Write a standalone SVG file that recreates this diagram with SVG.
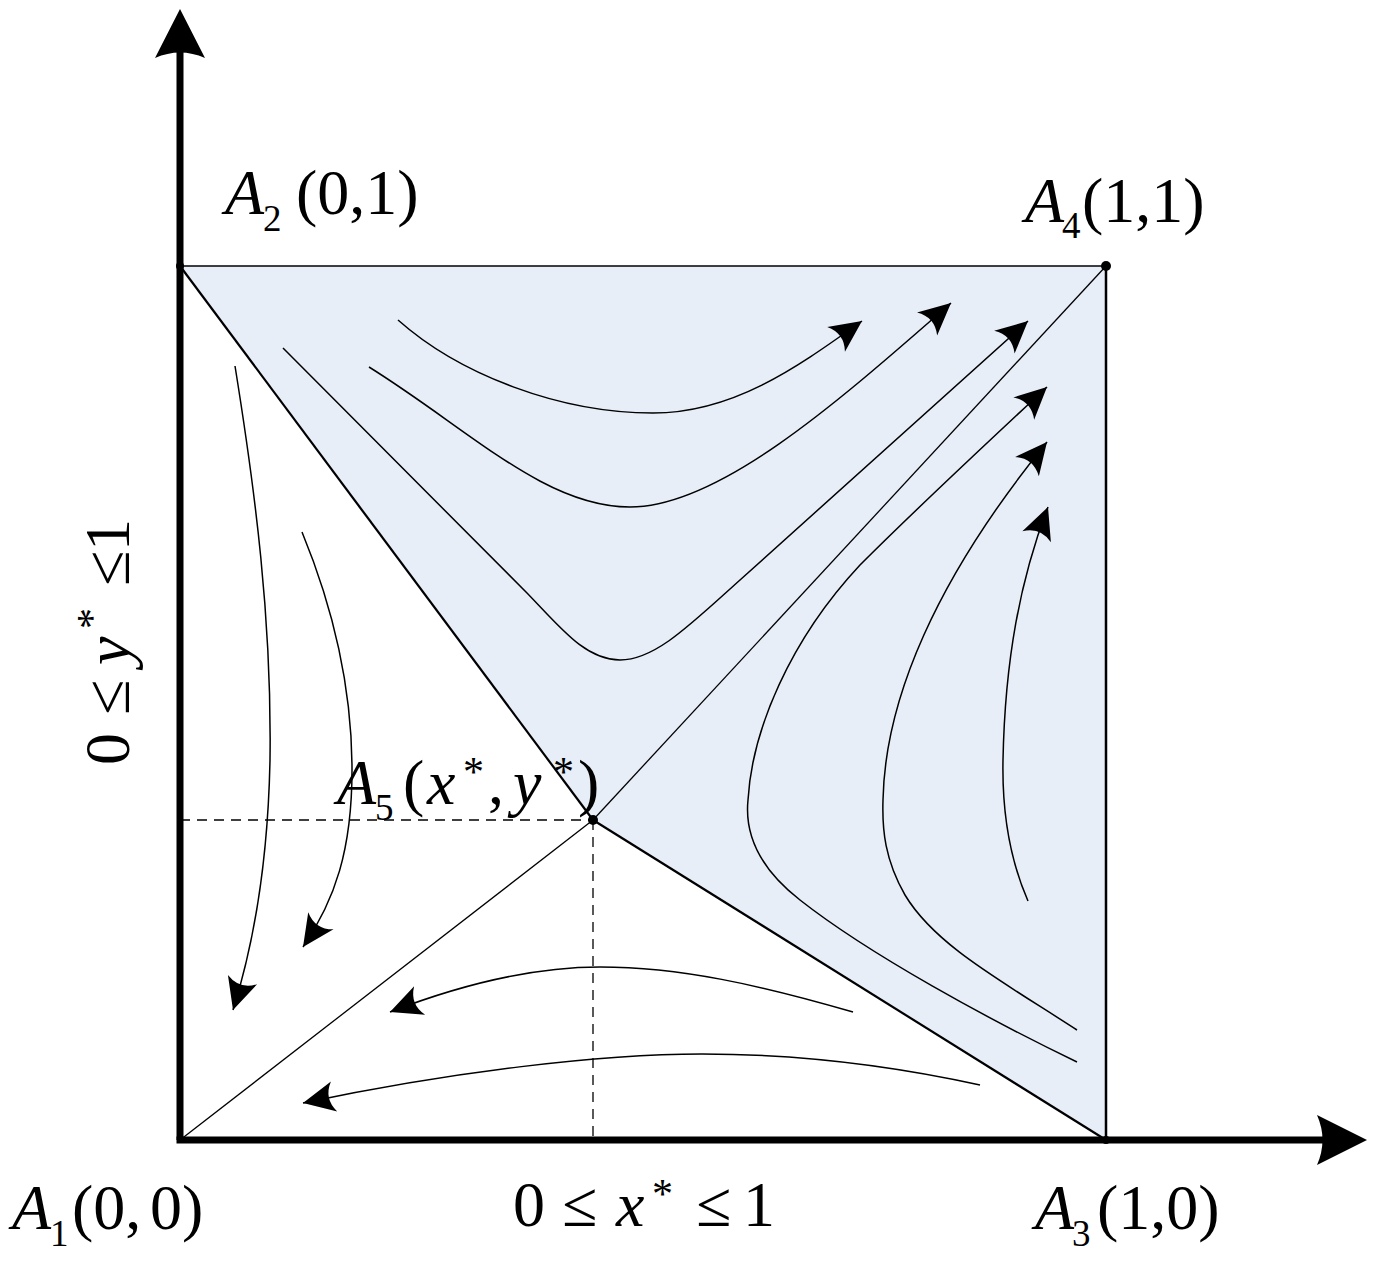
<svg xmlns="http://www.w3.org/2000/svg" width="1383" height="1272" viewBox="0 0 1383 1272">
<defs>
<marker id="ah" markerUnits="userSpaceOnUse" markerWidth="40" markerHeight="40" viewBox="-32 -16 34 32" refX="0" refY="0" orient="auto" overflow="visible"><path d="M0,0 L-27,-13 Q-18,0 -27,13 Z" fill="#000"/></marker>
</defs>
<style>
.t{font-family:"Liberation Serif","Times New Roman",serif;font-size:64px;fill:#000}
.i{font-style:italic}
.s{font-size:37px}
.st{font-size:42px}
.flow{fill:none;stroke:#000;stroke-width:1.5;marker-end:url(#ah)}
.ln{fill:none;stroke:#000}
.dash{fill:none;stroke:#000;stroke-width:1.3;stroke-dasharray:10 7}
.ax{fill:none;stroke:#000;stroke-width:7}
</style>
<rect width="1383" height="1272" fill="#fff"/>
<g id="region">
<polygon points="180,266 1106,266 1106,1140 593,820" fill="#E7EEF8"/>
</g>
<g id="axes">
<line class="ax" x1="180" y1="1140" x2="180" y2="50"/>
<line class="ax" x1="176.5" y1="1140" x2="1325" y2="1140"/>
<path d="M180,9 L155,58 Q180,47 205,58 Z" fill="#000"/>
<path d="M1367,1140 L1317,1115 Q1328,1140 1317,1165 Z" fill="#000"/>
</g>
<g id="connectors">
<line class="ln" stroke-width="1.5" x1="180" y1="266" x2="1106" y2="266"/>
<line class="ln" stroke-width="2.5" x1="1106" y1="266" x2="1106" y2="1140"/>
<line class="ln" stroke-width="2.2" x1="180" y1="266" x2="593" y2="820"/>
<line class="ln" stroke-width="2.2" x1="593" y1="820" x2="1106" y2="1140"/>
<line class="ln" stroke-width="1.3" x1="180" y1="1140" x2="593" y2="820"/>
<line class="ln" stroke-width="1.3" x1="593" y1="820" x2="1106" y2="266"/>
<line class="dash" x1="180" y1="820" x2="593" y2="820"/>
<line class="dash" x1="593" y1="820" x2="593" y2="1140"/>
<path class="flow" d="M398,320 C460,375 560,413 653,413 C735,413 800,365 862,321"/>
<path class="flow" d="M369,367 C470,430 545,507 630,507 C720,507 840,400 951,303"/>
<path class="flow" d="M283,348 L527,593 C560,627 585,660 620,660 C655,660 690,625 740,580 L1028,321"/>
<path class="flow" d="M1077,1062 C990,1020 870,955 800,900 C755,865 745,830 748,800 C752,730 790,640 860,565 C920,505 990,440 1047,387"/>
<path class="flow" d="M1077,1030 C1000,980 935,945 905,895 C885,860 882,830 883,800 C885,700 935,580 1047,442"/>
<path class="flow" d="M1028,901 C1010,860 1002,810 1003,760 C1005,660 1020,580 1048,507"/>
<path class="flow" d="M235,366 C255,490 272,620 270,760 C268,860 255,940 233,1010"/>
<path class="flow" d="M302,532 C330,600 352,680 352,770 C352,850 335,900 303,947"/>
<path class="flow" d="M853,1012 C760,985 680,967 600,967 C530,967 460,985 390,1012"/>
<path class="flow" d="M980,1085 C880,1063 790,1054 702,1054 C600,1054 450,1072 303,1103"/>
</g>
<g id="A1">
<text class="t"><tspan class="i" x="12" y="1229">A</tspan><tspan class="s" x="50" y="1246">1</tspan><tspan x="72" y="1229">(0,</tspan><tspan x="150" y="1229">0)</tspan></text>
</g>
<g id="A2">
<circle cx="180" cy="266" r="4"/>
<text class="t"><tspan class="i" x="225" y="214">A</tspan><tspan class="s" x="263" y="231">2</tspan><tspan x="296" y="214">(0,1)</tspan></text>
</g>
<g id="A3">
<circle cx="1106" cy="1140" r="4"/>
<text class="t"><tspan class="i" x="1035" y="1229">A</tspan><tspan class="s" x="1072" y="1246">3</tspan><tspan x="1097" y="1229">(1,0)</tspan></text>
</g>
<g id="A4">
<circle cx="1106" cy="266" r="5"/>
<text class="t"><tspan class="i" x="1025" y="222">A</tspan><tspan class="s" x="1062" y="238">4</tspan><tspan x="1082" y="222">(1,1)</tspan></text>
</g>
<g id="A5">
<circle cx="593" cy="820" r="5"/>
<text class="t"><tspan class="i" x="337" y="804">A</tspan><tspan class="s" x="375" y="820">5</tspan><tspan x="403" y="804">(</tspan><tspan class="i" x="427" y="804">x</tspan><tspan class="st" x="463" y="786">*</tspan><tspan x="488" y="804">,</tspan><tspan class="i" x="513" y="804">y</tspan><tspan class="st" x="553" y="786">*</tspan><tspan x="578" y="804">)</tspan></text>
</g>
<g id="xlabel">
<text class="t"><tspan x="513" y="1226">0</tspan><tspan x="562" y="1226">≤</tspan><tspan class="i" x="616" y="1226">x</tspan><tspan class="st" x="652" y="1208">*</tspan><tspan x="696" y="1226">≤</tspan><tspan x="743" y="1226">1</tspan></text>
</g>
<g id="ylabel">
<text class="t" transform="translate(129,765) rotate(-90)"><tspan x="0" y="0">0</tspan><tspan x="50" y="0">≤</tspan><tspan class="i" x="100" y="0">y</tspan><tspan class="st" x="136" y="-23">*</tspan><tspan x="179" y="0">≤</tspan><tspan x="214" y="0">1</tspan></text>
</g>
</svg>
